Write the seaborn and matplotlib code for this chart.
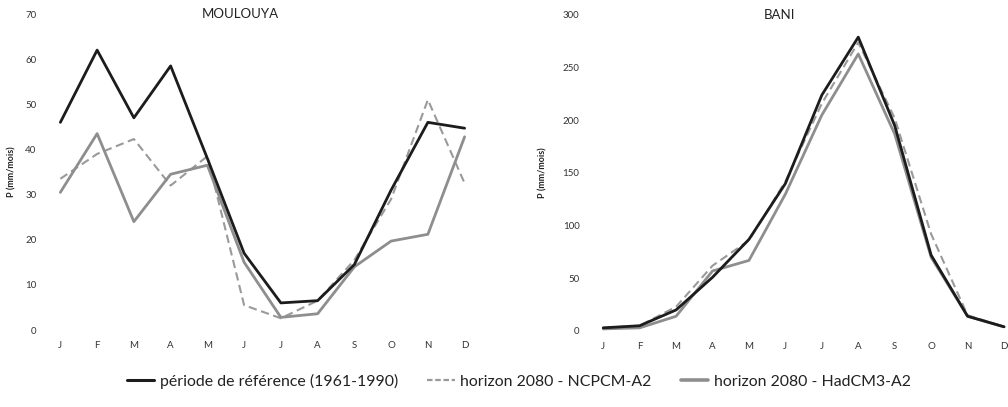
import numpy as np
import pandas as pd
import matplotlib
matplotlib.use("Agg")
import matplotlib.pyplot as plt
import seaborn as sns
from matplotlib.lines import Line2D

sns.set_theme(style="white")
plt.rcParams['font.family'] = ['Lato', 'DejaVu Sans']

months = ["J", "F", "M", "A", "M", "J", "J", "A", "S", "O", "N", "D"]
series_names = ["période de référence (1961-1990)", "horizon 2080 - NCPCM-A2", "horizon 2080 - HadCM3-A2"]

moulouya_ref = [46, 62, 47, 58.5, 38, 17, 6, 6.5, 14.5, 31, 46, 44.7]
moulouya_ncpcm = [33.5, 39, 42.3, 32, 38.5, 5.5, 2.6, 6.5, 15.5, 29, 51, 32.5]
moulouya_hadcm = [30.5, 43.5, 24, 34.5, 36.5, 15, 2.8, 3.6, 14, 19.7, 21.2, 42.8]

bani_ref = [3, 5, 20, 51, 87, 140, 224, 279, 195, 72, 14, 4]
bani_ncpcm = [3, 5, 23, 62, 86, 142, 216, 274, 202, 92, 15, 4]
bani_hadcm = [2, 3, 14, 57, 67, 130, 205, 263, 187, 70, 14, 4]

colors = {series_names[0]: "#1c1c1c", series_names[1]: "#9a9a9a", series_names[2]: "#8e8e8e"}
dashes = {series_names[0]: "", series_names[1]: (4, 2.2), series_names[2]: ""}
widths = {series_names[0]: 2.0, series_names[1]: 1.5, series_names[2]: 2.0}


def make_df(vals):
    rows = []
    for name, v in zip(series_names, vals):
        for i, p in enumerate(v):
            rows.append({"mois": i, "P": p, "serie": name})
    return pd.DataFrame(rows)


fig = plt.figure(figsize=(10.08, 4.07), dpi=100)
W, H = 1008, 407
sp = 36.6

ax1 = fig.add_axes([42 / W, 1 - 330 / H, (483 - 42) / W, (330 - 14) / H])
ax2 = fig.add_axes([585 / W, 1 - 331 / H, (1008 - 585) / W, (331 - 15) / H])

panels = [
    (ax1, [moulouya_ref, moulouya_ncpcm, moulouya_hadcm], "MOULOUYA", (0, 70), np.arange(0, 71, 10), (-0.5, 11.5)),
    (ax2, [bani_ref, bani_ncpcm, bani_hadcm], "BANI", (0, 300), np.arange(0, 301, 50), (-0.5, 11 + 4 / sp)),
]

for ax, vals, title, ylim, yticks, xlim in panels:
    df = make_df(vals)
    # draw order: ncpcm, hadcm, then reference on top
    for name in [series_names[1], series_names[2], series_names[0]]:
        sub = df[df["serie"] == name]
        sns.lineplot(data=sub, x="mois", y="P", ax=ax, color=colors[name],
                     linewidth=widths[name], legend=False, estimator=None, sort=False)
        line = ax.lines[-1]
        if dashes[name]:
            line.set_dashes(dashes[name])
    ax.set_ylim(*ylim)
    ax.set_xlim(*xlim)
    ax.set_yticks(yticks)
    ax.set_yticklabels([str(t) for t in yticks], fontsize=7, color="#333333")
    ax.set_xticks(range(12))
    ax.set_xticklabels(months, fontsize=7, color="#333333")
    ax.tick_params(axis="both", length=0, pad=4)
    ax.tick_params(axis="x", pad=8)
    for s in ax.spines.values():
        s.set_visible(False)
    ax.set_xlabel("")
    ax.set_ylabel("P (mm/mois)", fontsize=6.5, fontweight="bold", color="#222222", labelpad=6)
    ax.set_title(title, fontsize=9.5, color="#222222", pad=0, y=1.0, va="center")
    ax.patch.set_alpha(0)

ax1.yaxis.set_label_coords(-0.058, 0.5)
ax2.yaxis.set_label_coords(-0.088, 0.5)
ax1.title.set_position((0.45, 1.0))
ax2.title.set_position((0.46, 1.0))

handles = [
    Line2D([0], [0], color=colors[series_names[0]], lw=2.2),
    Line2D([0], [0], color=colors[series_names[1]], lw=1.6, dashes=(2.5, 1.2)),
    Line2D([0], [0], color=colors[series_names[2]], lw=2.6),
]
fig.legend(handles, series_names, loc="center", bbox_to_anchor=(0.5145, 1 - 381 / H), ncol=3,
           frameon=False, fontsize=11.4, handlelength=1.75, handletextpad=0.33, columnspacing=1.85,
           labelcolor="#222222")

fig.savefig("out.png", dpi=100)
